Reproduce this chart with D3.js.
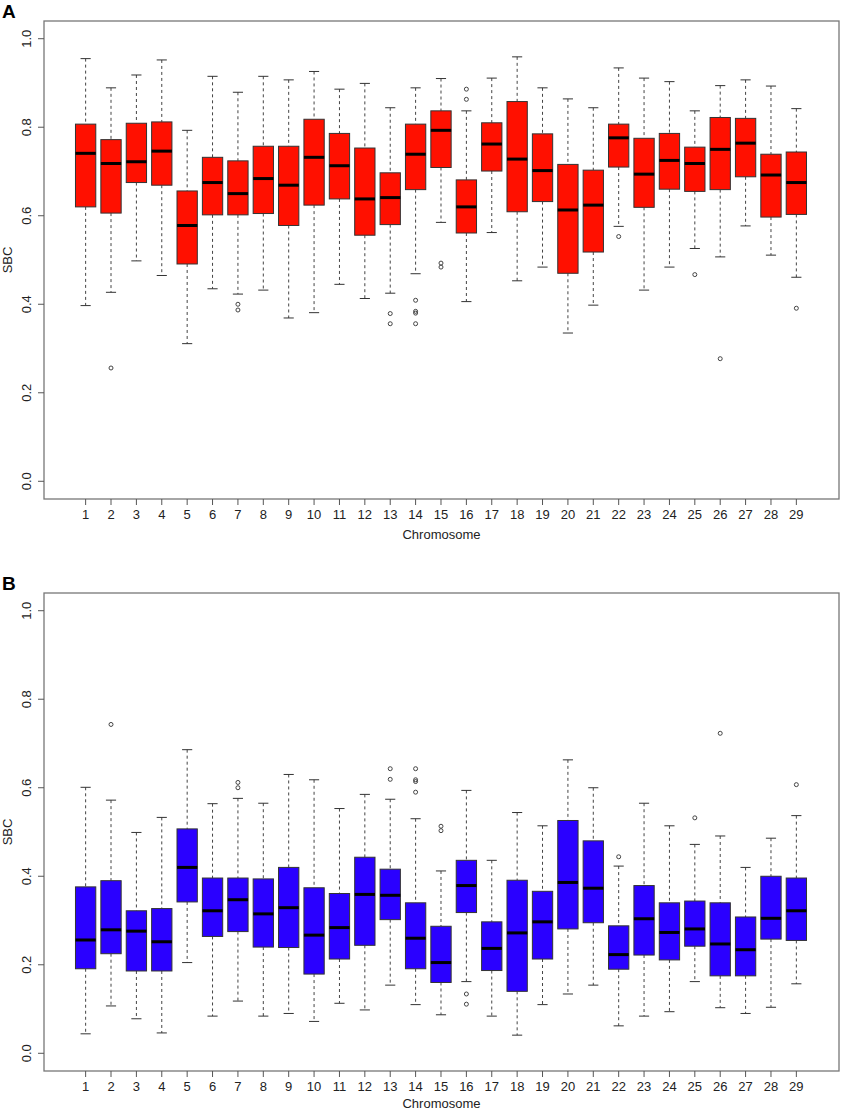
<!DOCTYPE html>
<html>
<head>
<meta charset="utf-8">
<script src="https://cdn.jsdelivr.net/npm/d3@7"></script>
<style>
  body { margin: 0; background: #fff; }
  svg { display: block; font-family: "Liberation Sans", Arial, sans-serif; }
</style>
</head>
<body>
<svg id="chart" width="844" height="1112"></svg>
<script>
// Chromosome labels
const chromosomes = d3.range(1, 30);
const yTicks = [0, 0.2, 0.4, 0.6, 0.8, 1.0];

// Panel A (red) five-number summaries
const aHigh = [0.955,0.889,0.918,0.952,0.793,0.915,0.879,0.915,0.907,0.926,0.886,0.899,0.844,0.889,0.910,0.837,0.911,0.959,0.889,0.864,0.844,0.934,0.911,0.903,0.837,0.894,0.907,0.893,0.842];
const aQ3   = [0.807,0.772,0.809,0.812,0.656,0.732,0.724,0.757,0.757,0.818,0.786,0.753,0.697,0.807,0.837,0.681,0.810,0.858,0.785,0.716,0.703,0.807,0.775,0.786,0.755,0.822,0.820,0.739,0.744];
const aMed  = [0.741,0.718,0.722,0.746,0.578,0.675,0.650,0.684,0.669,0.732,0.713,0.638,0.641,0.739,0.793,0.620,0.762,0.728,0.702,0.613,0.624,0.776,0.694,0.725,0.718,0.750,0.764,0.692,0.675];
const aQ1   = [0.620,0.606,0.675,0.669,0.491,0.602,0.602,0.605,0.578,0.624,0.638,0.556,0.580,0.659,0.709,0.561,0.701,0.609,0.632,0.470,0.518,0.710,0.619,0.660,0.655,0.659,0.688,0.597,0.603];
const aLow  = [0.397,0.427,0.498,0.465,0.311,0.435,0.423,0.432,0.369,0.381,0.445,0.413,0.425,0.469,0.585,0.406,0.562,0.453,0.484,0.335,0.398,0.576,0.432,0.484,0.526,0.507,0.577,0.511,0.461];
const aOut  = [[2,0.256],[7,0.400],[7,0.387],[13,0.379],[13,0.356],[14,0.409],[14,0.384],[14,0.380],[14,0.356],
               [15,0.493],[15,0.484],[16,0.886],[16,0.863],[22,0.553],[25,0.467],[26,0.277],[29,0.391]];

// Panel B (blue)
const bHigh = [0.601,0.572,0.499,0.533,0.686,0.564,0.576,0.565,0.630,0.618,0.553,0.585,0.574,0.530,0.412,0.594,0.436,0.544,0.514,0.663,0.600,0.423,0.565,0.514,0.472,0.491,0.420,0.486,0.537];
const bQ3   = [0.376,0.390,0.322,0.327,0.507,0.396,0.396,0.394,0.420,0.374,0.361,0.443,0.416,0.340,0.287,0.436,0.297,0.391,0.366,0.526,0.480,0.288,0.379,0.340,0.344,0.340,0.308,0.400,0.396];
const bMed  = [0.256,0.279,0.276,0.252,0.420,0.322,0.347,0.315,0.329,0.267,0.284,0.359,0.357,0.260,0.205,0.379,0.237,0.272,0.297,0.386,0.373,0.223,0.304,0.273,0.281,0.247,0.234,0.305,0.322];
const bQ1   = [0.191,0.225,0.186,0.186,0.342,0.264,0.275,0.240,0.239,0.179,0.213,0.244,0.302,0.191,0.160,0.318,0.187,0.140,0.213,0.281,0.295,0.190,0.222,0.211,0.242,0.175,0.175,0.258,0.255];
const bLow  = [0.044,0.107,0.078,0.046,0.205,0.084,0.118,0.084,0.090,0.072,0.113,0.098,0.154,0.110,0.087,0.162,0.084,0.041,0.110,0.134,0.154,0.062,0.084,0.094,0.162,0.103,0.090,0.104,0.157];
const bOut  = [[2,0.743],[7,0.612],[7,0.600],[13,0.643],[13,0.619],[14,0.643],[14,0.618],[14,0.614],[14,0.590],
               [15,0.513],[15,0.503],[16,0.134],[16,0.111],[22,0.444],[25,0.532],[26,0.723],[29,0.607]];

const svg = d3.select("#chart");

// shared x scale (R style: usr extends past 0.5..29.5)
const x = d3.scaleLinear().domain([-0.64, 30.68]).range([44, 839]);
const boxW = (x(1) - x(0)) * 0.8;

function drawPanel(top, letter, fill, high, q3, med, q1, low, outliers) {
    const bottom = top + 478;
    const y = d3.scaleLinear().domain([-0.04, 1.04]).range([bottom, top]);
    const g = svg.append("g");

    const stats = chromosomes.map((c, i) => ({c, hi: high[i], q3: q3[i], med: med[i], q1: q1[i], lo: low[i]}));

    // whiskers
    const box = g.selectAll(".box").data(stats).enter().append("g").attr("class", "box");
    box.append("line")
        .attr("x1", d => x(d.c)).attr("x2", d => x(d.c))
        .attr("y1", d => y(d.hi)).attr("y2", d => y(d.q3))
        .style("stroke", "#444").style("stroke-dasharray", "3,3");
    box.append("line")
        .attr("x1", d => x(d.c)).attr("x2", d => x(d.c))
        .attr("y1", d => y(d.q1)).attr("y2", d => y(d.lo))
        .style("stroke", "#444").style("stroke-dasharray", "3,3");
    // staples
    box.append("line")
        .attr("x1", d => x(d.c) - boxW / 4).attr("x2", d => x(d.c) + boxW / 4)
        .attr("y1", d => y(d.hi)).attr("y2", d => y(d.hi))
        .style("stroke", "#333");
    box.append("line")
        .attr("x1", d => x(d.c) - boxW / 4).attr("x2", d => x(d.c) + boxW / 4)
        .attr("y1", d => y(d.lo)).attr("y2", d => y(d.lo))
        .style("stroke", "#333");
    // boxes
    box.append("rect")
        .attr("x", d => x(d.c) - boxW / 2)
        .attr("width", boxW)
        .attr("y", d => y(d.q3))
        .attr("height", d => y(d.q1) - y(d.q3))
        .style("fill", fill)
        .style("stroke", "#333")
        .style("stroke-width", 1);
    // medians
    box.append("line")
        .attr("x1", d => x(d.c) - boxW / 2).attr("x2", d => x(d.c) + boxW / 2)
        .attr("y1", d => y(d.med)).attr("y2", d => y(d.med))
        .style("stroke", "#000").style("stroke-width", 3);

    // outliers
    g.selectAll(".outlier").data(outliers).enter().append("circle")
        .attr("class", "outlier")
        .attr("cx", d => x(d[0]))
        .attr("cy", d => y(d[1]))
        .attr("r", 2)
        .style("fill", "none")
        .style("stroke", "#444");

    // frame
    g.append("rect")
        .attr("x", 44).attr("y", top)
        .attr("width", 839 - 44).attr("height", bottom - top)
        .style("fill", "none").style("stroke", "#777").style("stroke-width", 1.3);

    // y axis ticks
    g.selectAll(".ytick").data(yTicks).enter().append("line")
        .attr("x1", 38).attr("x2", 44)
        .attr("y1", d => y(d)).attr("y2", d => y(d))
        .style("stroke", "#555");
    g.selectAll(".ylab").data(yTicks).enter().append("text")
        .attr("transform", d => `translate(31,${y(d)}) rotate(-90)`)
        .attr("text-anchor", "middle")
        .style("font-size", "13px")
        .style("fill", "#222")
        .text(d => d.toFixed(1));

    // x axis ticks
    g.selectAll(".xtick").data(chromosomes).enter().append("line")
        .attr("x1", d => x(d)).attr("x2", d => x(d))
        .attr("y1", bottom).attr("y2", bottom + 6)
        .style("stroke", "#555");
    g.selectAll(".xlab").data(chromosomes).enter().append("text")
        .attr("x", d => x(d))
        .attr("y", bottom + 20)
        .attr("text-anchor", "middle")
        .style("font-size", "13px")
        .style("fill", "#222")
        .text(d => d);

    // axis titles
    g.append("text")
        .attr("x", (44 + 839) / 2)
        .attr("y", Math.min(bottom + 40, 1108))
        .attr("text-anchor", "middle")
        .style("font-size", "13px")
        .style("fill", "#222")
        .text("Chromosome");
    g.append("text")
        .attr("transform", `translate(12,${(top + bottom) / 2}) rotate(-90)`)
        .attr("text-anchor", "middle")
        .style("font-size", "13px")
        .style("fill", "#222")
        .text("SBC");

    // panel letter
    g.append("text")
        .attr("x", 2).attr("y", top - 3)
        .style("font-size", "19px")
        .style("font-weight", "bold")
        .text(letter);
}

drawPanel(21, "A", "#ff1000", aHigh, aQ3, aMed, aQ1, aLow, aOut);
drawPanel(593, "B", "#2a00ff", bHigh, bQ3, bMed, bQ1, bLow, bOut);
</script>
</body>
</html>
